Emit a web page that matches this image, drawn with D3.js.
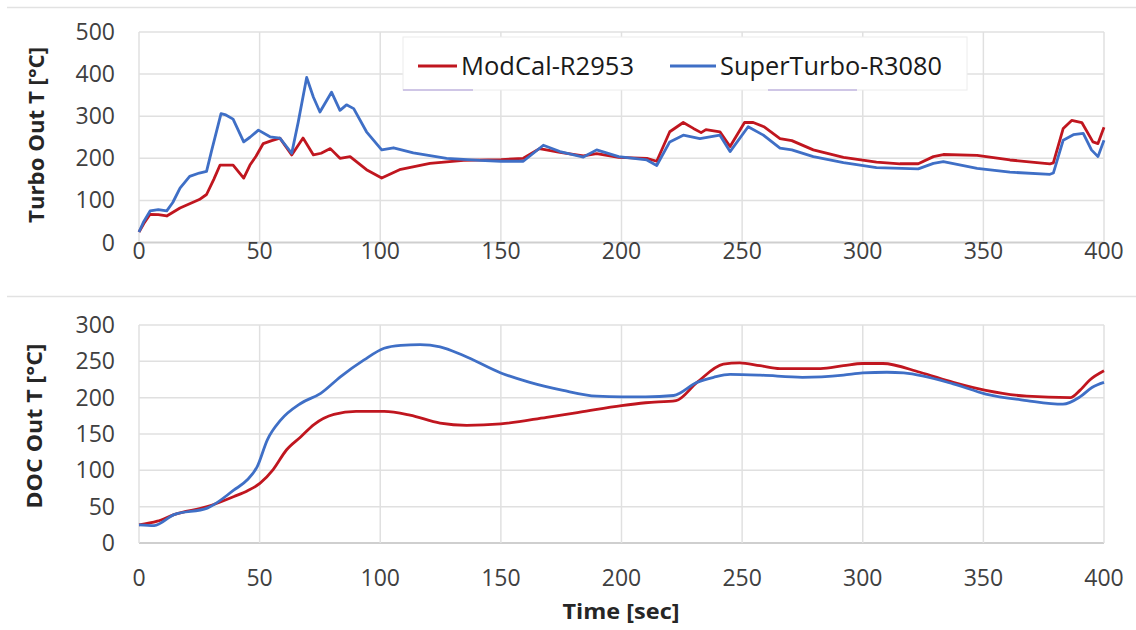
<!DOCTYPE html>
<html>
<head>
<meta charset="utf-8">
<script src="https://cdn.jsdelivr.net/npm/d3@7"></script>
<style>
  body { margin: 0; background: #fff; }
  svg { display: block; font-family: "Open Sans", "Liberation Sans", sans-serif; }
</style>
</head>
<body>
<svg id="chart" width="1136" height="630"></svg>
<script>
// Series names
const seriesNames = ["ModCal-R2953", "SuperTurbo-R3080"];
const seriesColors = ["#c0161f", "#3f6fc6"];

// Turbo out temperature, ModCal
const turboModCalTime = [0, 2, 4.6, 8, 11.5, 17, 21, 25, 28, 31, 33.6, 39, 43.4, 46, 48.5, 51.5, 55, 58.4, 63.3, 68, 72.3, 75.5, 79.3, 83.3, 87.5, 94.3, 100.6, 108, 120.6, 134.5, 150, 159.3, 166, 174.5, 184.2, 189.7, 198.8, 210.5, 214.6, 220, 225.6, 229.8, 233, 235, 240.8, 245, 251, 254.6, 259, 265.7, 270.6, 279.5, 292, 305.7, 315.4, 323, 329.3, 333.4, 347.4, 361, 377.6, 379, 383.1, 386.6, 390.8, 395.4, 397.5, 400];
const turboModCal = [25, 45, 67, 66, 63, 82, 92, 102, 114, 150, 184, 184, 153, 184, 205, 235, 242, 248, 208, 248, 208, 212, 223, 200, 204, 173, 153, 173, 188, 195, 197, 200, 223, 214, 206, 211, 202, 200, 193, 263, 285, 271, 261, 268, 263, 228, 285, 285, 275, 247, 242, 220, 202, 191, 187, 187, 204, 209, 207, 196, 187, 189, 271, 290, 285, 239, 235, 274];

// Turbo out temperature, SuperTurbo
const turboSuperTime = [0, 2, 4.6, 8, 11.5, 14, 17, 21, 25, 28, 30, 34, 36, 39, 43.4, 46, 49.5, 54.3, 58.4, 63.3, 66, 69.5, 72.3, 75, 79.8, 83.3, 86, 89, 94.3, 100.6, 105.5, 113.7, 127.5, 141.3, 150, 159.3, 167.6, 174.5, 184.2, 189.7, 198.8, 210.5, 214.6, 220, 225.6, 232.5, 240.8, 245, 252.5, 258.8, 265.7, 270.6, 279.5, 292, 305.7, 323, 329.3, 333.4, 347.4, 361, 377.6, 379, 383.1, 387.3, 391.4, 394.8, 397.5, 400];
const turboSuper = [25, 50, 75, 78, 75, 95, 129, 157, 165, 169, 216, 306, 303, 293, 239, 250, 267, 251, 248, 212, 286, 392, 345, 310, 357, 314, 327, 318, 263, 220, 225, 213, 200, 195, 193, 193, 231, 216, 203, 220, 204, 196, 183, 239, 255, 247, 255, 216, 275, 255, 224, 220, 204, 190, 178, 175, 188, 192, 176, 167, 162, 165, 243, 256, 259, 220, 204, 243];

// DOC out temperature, ModCal
const docModCalTime = [0, 7.6, 14.5, 28.3, 39.4, 45, 50.1, 55.6, 61.1, 67, 72.5, 80.8, 90, 101.6, 112.3, 124.8, 135.8, 150, 169, 182.8, 200, 210, 222.6, 231.3, 242.2, 249, 257.4, 265.7, 282.5, 292, 300, 308.3, 323.7, 337.5, 351, 368, 386, 390, 394, 400];
const docModCal = [25, 30, 39, 50, 64, 72, 82, 101, 128, 146, 163, 177, 181, 181, 176, 165, 162, 164, 173, 180, 189, 193, 196, 221, 246, 248, 244, 240, 240, 244, 247, 247, 235, 221, 210, 202, 200, 210, 224, 237];

// DOC out temperature, SuperTurbo
const docSuperTime = [0, 6.3, 14.5, 28.3, 39.4, 44.9, 49, 53.2, 58.7, 67, 75.3, 83.6, 93.3, 101.6, 108.5, 116.5, 124.8, 134.5, 150, 162, 175.8, 189.7, 200, 210, 221.6, 231.3, 238.2, 245, 257.4, 275, 292, 300, 310, 317, 337.5, 351, 368, 383, 390, 395, 400];
const docSuper = [25, 24, 39, 48, 73, 87, 105, 142, 169, 192, 206, 229, 252, 268, 272, 273, 270, 258, 234, 221, 210, 202, 201, 201, 203, 221, 228, 232, 231, 228, 231, 234, 235, 234, 219, 205, 196, 191, 201, 214, 221];

// Ticks
const xTicks = [0, 50, 100, 150, 200, 250, 300, 350, 400];
const turboTicks = [0, 100, 200, 300, 400, 500];
const docTicks = [0, 50, 100, 150, 200, 250, 300];

const svg = d3.select("#chart");

// panel separator lines
svg.append("line").attr("x1", 7).attr("x2", 1136).attr("y1", 7.5).attr("y2", 7.5)
  .attr("stroke", "#e2e2e2").attr("stroke-width", 1.5);
svg.append("line").attr("x1", 7).attr("x2", 1136).attr("y1", 296.5).attr("y2", 296.5)
  .attr("stroke", "#e2e2e2").attr("stroke-width", 1.5);

const xScale = d3.scaleLinear().domain([0, 400]).range([139, 1104]);

function drawPanel(opts) {
  const yScale = d3.scaleLinear().domain(opts.yDomain).range(opts.yRange);
  const g = svg.append("g");

  // grid
  g.selectAll(".hgrid").data(opts.yTicks).join("line")
    .attr("x1", xScale(0)).attr("x2", xScale(400))
    .attr("y1", (d) => yScale(d)).attr("y2", (d) => yScale(d))
    .attr("stroke", (d) => (d === 0 ? "#cfcfcf" : "#e0e0e0"))
    .attr("stroke-width", (d) => (d === 0 ? 2 : 1.5));
  g.selectAll(".vgrid").data(xTicks).join("line")
    .attr("x1", (d) => xScale(d)).attr("x2", (d) => xScale(d))
    .attr("y1", yScale(opts.yDomain[1])).attr("y2", yScale(0))
    .attr("stroke", "#e0e0e0").attr("stroke-width", 1.5);

  // y tick labels
  g.selectAll(".ylab").data(opts.yTicks).join("text")
    .attr("x", 115).attr("y", (d) => yScale(d))
    .attr("dy", "0.35em").attr("text-anchor", "end")
    .attr("font-size", 23).attr("fill", "#404040")
    .text((d) => d);

  // x tick labels
  g.selectAll(".xlab").data(xTicks).join("text")
    .attr("x", (d) => xScale(d)).attr("y", opts.xLabelY)
    .attr("dy", "0.35em").attr("text-anchor", "middle")
    .attr("font-size", 23).attr("fill", "#404040")
    .text((d) => d);

  // y axis title
  g.append("text")
    .attr("transform", `translate(${opts.titleX},${opts.titleY}) rotate(-90)`)
    .attr("text-anchor", "middle").attr("dy", "0.35em")
    .attr("font-size", 21).attr("font-weight", "bold").attr("fill", "#262626")
    .attr("textLength", opts.titleLen).attr("lengthAdjust", "spacingAndGlyphs")
    .text(opts.title);

  opts.series.forEach((s, i) => {
    const pts = s.time.map((t, j) => [t, s.values[j]]);
    const line = d3.line()
      .x((d) => xScale(d[0]))
      .y((d) => yScale(d[1]))
      .curve(opts.curve);
    g.append("path").datum(pts)
      .attr("fill", "none")
      .attr("stroke", seriesColors[i])
      .attr("stroke-width", 2.8)
      .attr("stroke-linejoin", "round")
      .attr("d", line);
  });
  return g;
}

drawPanel({
  yDomain: [0, 500], yRange: [242.5, 32], yTicks: turboTicks,
  xLabelY: 251, titleX: 37, titleY: 135, titleLen: 176,
  title: "Turbo Out T [°C]", curve: d3.curveLinear,
  series: [
    { time: turboModCalTime, values: turboModCal },
    { time: turboSuperTime, values: turboSuper }
  ]
});

drawPanel({
  yDomain: [0, 300], yRange: [543, 325], yTicks: docTicks,
  xLabelY: 578, titleX: 35, titleY: 426, titleLen: 165,
  title: "DOC Out T [°C]", curve: d3.curveMonotoneX,
  series: [
    { time: docModCalTime, values: docModCal },
    { time: docSuperTime, values: docSuper }
  ]
});

// x axis title
svg.append("text")
  .attr("x", 621).attr("y", 612).attr("dy", "0.35em")
  .attr("text-anchor", "middle")
  .attr("font-size", 21).attr("font-weight", "bold").attr("fill", "#262626")
  .attr("textLength", 117).attr("lengthAdjust", "spacingAndGlyphs")
  .text("Time [sec]");

// legend
const legend = svg.append("g");
legend.append("rect")
  .attr("x", 403).attr("y", 37).attr("width", 564).attr("height", 53)
  .attr("fill", "#fff").attr("stroke", "#ececec").attr("stroke-width", 1);
const legendItems = [
  { x1: 418, x2: 457, tx: 461, len: 173 },
  { x1: 670, x2: 716, tx: 720, len: 222 }
];
legendItems.forEach((it, i) => {
  legend.append("line")
    .attr("x1", it.x1).attr("x2", it.x2).attr("y1", 66).attr("y2", 66)
    .attr("stroke", seriesColors[i]).attr("stroke-width", 2.8);
  legend.append("text")
    .attr("x", it.tx).attr("y", 66).attr("dy", "0.35em")
    .attr("font-size", 25).attr("fill", "#1a1a1a")
    .attr("textLength", it.len).attr("lengthAdjust", "spacingAndGlyphs")
    .text(seriesNames[i]);
});
// faint lavender marks under the legend
[[403, 473], [768, 857]].forEach((d) => {
  legend.append("line")
    .attr("x1", d[0]).attr("x2", d[1]).attr("y1", 90).attr("y2", 90)
    .attr("stroke", "#cfc6e6").attr("stroke-width", 2);
});
</script>
</body>
</html>
